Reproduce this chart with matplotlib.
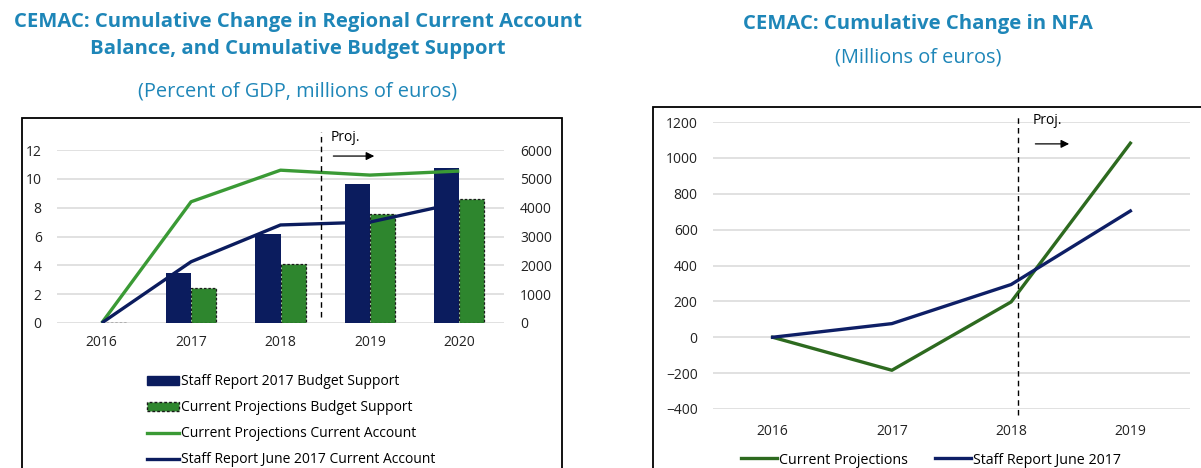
import numpy as np
import matplotlib
matplotlib.use('Agg')
import matplotlib.pyplot as plt
from matplotlib.patches import Rectangle, Patch
from matplotlib.lines import Line2D

plt.rcParams['font.family'] = ['Open Sans', 'DejaVu Sans']

# 数据 - 左图
years_l = ['2016', '2017', '2018', '2019', '2020']
sr_budget = [0, 1745, 3075, 4810, 5365]        # 百万欧元
cp_budget = [0, 1200, 2035, 3770, 4310]
cp_ca = [0, 8.41, 10.6, 10.26, 10.54]           # 占GDP百分比
sr_ca = [0, 4.25, 6.8, 7.0, 8.35]

# 数据 - 右图
years_r = ['2016', '2017', '2018', '2019']
nfa_cp = [0, -184, 197, 1082]
nfa_sr = [0, 76, 294, 704]

title_c = '#1E86B8'
navy = '#0B1C5E'
green_bar = '#2E862E'
green_line = '#3A9A35'
green_dark = '#2D6A1F'
grid_c = '#D9D9D9'

fig = plt.figure(figsize=(12.01, 4.68), dpi=100)

# 外框
fig.patches.append(Rectangle((22/1201, -0.1), 540/1201, 1.1 - 118/468, transform=fig.transFigure,
                             fill=False, edgecolor='black', linewidth=1.3))
fig.patches.append(Rectangle((653/1201, -0.1), 0.5, 1.1 - 107/468, transform=fig.transFigure,
                             fill=False, edgecolor='black', linewidth=1.3))

# 标题
fig.text(298/1201, 1 - 22/468, 'CEMAC: Cumulative Change in Regional Current Account',
         ha='center', va='center', fontsize=14.6, fontweight='bold', color=title_c)
fig.text(298/1201, 1 - 49/468, 'Balance, and Cumulative Budget Support',
         ha='center', va='center', fontsize=14.6, fontweight='bold', color=title_c)
fig.text(298/1201, 1 - 91/468, '(Percent of GDP, millions of euros)',
         ha='center', va='center', fontsize=14.4, color=title_c)
fig.text(918/1201, 1 - 24/468, 'CEMAC: Cumulative Change in NFA',
         ha='center', va='center', fontsize=14.6, fontweight='bold', color=title_c)
fig.text(918/1201, 1 - 57/468, '(Millions of euros)',
         ha='center', va='center', fontsize=14.4, color=title_c)

# ---------------- 左图 ----------------
ax = fig.add_axes([57/1201, 1 - 323/468, 447/1201, 173/468])
ax2 = ax.twinx()
ax.set_zorder(ax2.get_zorder() + 1)
ax.patch.set_visible(False)

x = np.arange(len(years_l))
w = 0.28
ax2.bar(x - w/2, sr_budget, w, color=navy, zorder=2)
ax2.bar(x + w/2, cp_budget, w, color=green_bar, edgecolor='#1a1a1a',
        linestyle=(0, (2, 1.5)), linewidth=0.9, zorder=2)
ax2.set_ylim(0, 6000)
ax2.set_yticks(np.arange(0, 6001, 1000))
ax2.yaxis.grid(True, color=grid_c, linewidth=1.1)
ax2.set_axisbelow(True)

ax.plot(x, cp_ca, color=green_line, linewidth=2.4, solid_capstyle='butt')
ax.plot(x, sr_ca, color=navy, linewidth=2.4, solid_capstyle='butt')
ax.set_ylim(0, 12)
ax.set_yticks(np.arange(0, 13, 2))
ax.set_xlim(-0.5, 4.5)
ax.set_xticks(x)
ax.set_xticklabels(years_l)

for a in (ax, ax2):
    for s in a.spines.values():
        s.set_visible(False)
    a.tick_params(length=0, labelsize=10, colors='#222222')
ax.tick_params(axis='y', pad=11)
ax2.tick_params(axis='y', pad=11.5)
ax.tick_params(axis='x', pad=9)

ax.plot([2.45, 2.45], [0.44, 13.25], color='black', linestyle=(0, (4, 3)), linewidth=1, clip_on=False)
ax.text(2.56, 12.9, 'Proj.', ha='left', va='center', fontsize=10)
ax.annotate('', xy=(3.08, 11.58), xytext=(2.56, 11.58),
            arrowprops=dict(arrowstyle='-|>', color='black', lw=0.9, mutation_scale=12),
            annotation_clip=False)

handles_l = [Patch(facecolor=navy, edgecolor=navy),
             Patch(facecolor=green_bar, edgecolor='#1a1a1a', linestyle=(0, (2, 1.5)), linewidth=1),
             Line2D([], [], color=green_line, linewidth=2.4),
             Line2D([], [], color=navy, linewidth=2.4)]
labels_l = ['Staff Report 2017 Budget Support', 'Current Projections Budget Support',
            'Current Projections Current Account', 'Staff Report June 2017 Current Account']
fig.legend(handles_l, labels_l, loc='upper left', bbox_to_anchor=(147/1201, 1 - 374/468),
           frameon=False, fontsize=10, handlelength=2.3, handleheight=0.6, handletextpad=0.15,
           labelspacing=0.8, borderpad=0, borderaxespad=0)

# ---------------- 右图 ----------------
bx = fig.add_axes([713/1201, 1 - 409/468, 477/1201, 287/468])
xr = np.arange(len(years_r))
bx.plot(xr, nfa_cp, color=green_dark, linewidth=2.4, label='Current Projections')
bx.plot(xr, nfa_sr, color='#0E1F66', linewidth=2.4, label='Staff Report June 2017')
bx.set_ylim(-400, 1200)
bx.set_yticks(np.arange(-400, 1201, 200))
bx.set_xlim(-0.5, 3.5)
bx.set_xticks(xr)
bx.set_xticklabels(years_r)
bx.yaxis.grid(True, color=grid_c, linewidth=1.1)
bx.set_axisbelow(True)
for s in bx.spines.values():
    s.set_visible(False)
bx.tick_params(length=0, labelsize=10, colors='#222222')
bx.tick_params(axis='y', pad=11)
bx.tick_params(axis='x', pad=11)

bx.plot([2.06, 2.06], [-436, 1240], color='black', linestyle=(0, (4, 3)), linewidth=1, clip_on=False)
bx.text(2.18, 1207, 'Proj.', ha='left', va='center', fontsize=10)
bx.annotate('', xy=(2.51, 1078), xytext=(2.18, 1078),
            arrowprops=dict(arrowstyle='-|>', color='black', lw=0.9, mutation_scale=12),
            annotation_clip=False)

fig.legend(*bx.get_legend_handles_labels(), loc='center left', bbox_to_anchor=(741/1201, 1 - 460/468),
           ncol=2, frameon=False, fontsize=10.3, handlelength=2.5, handletextpad=0.15,
           columnspacing=1.9, borderpad=0, borderaxespad=0)

fig.savefig('out.png', dpi=100)
